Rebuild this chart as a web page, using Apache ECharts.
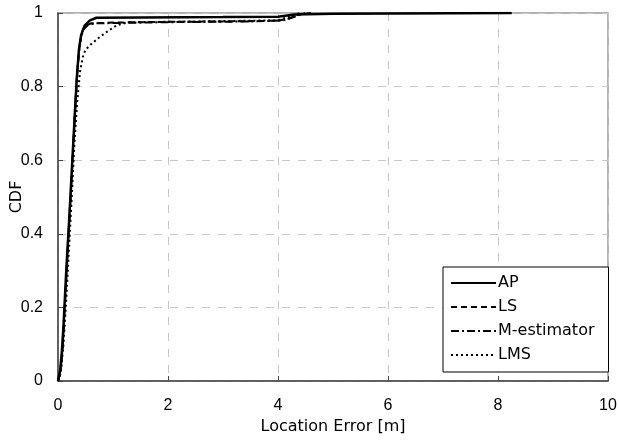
<!DOCTYPE html>
<html>
<head>
<meta charset="utf-8">
<script src="https://cdn.jsdelivr.net/npm/echarts@6/dist/echarts.min.js"></script>
<style>
  html, body { margin: 0; padding: 0; background: #fff; }
  #chart { width: 619px; height: 441px; }
</style>
</head>
<body>
<div id="chart"></div>
<script>
// CDF of location error for four estimators: [error (m), cumulative probability]
const seriesNames = ['AP', 'LS', 'M-estimator', 'LMS'];

const apCdf = [
  [0, 0], [0.04, 0.03], [0.07, 0.08], [0.1, 0.15], [0.15, 0.3], [0.2, 0.43],
  [0.25, 0.57], [0.3, 0.71], [0.34, 0.82], [0.38, 0.9], [0.42, 0.94],
  [0.48, 0.965], [0.58, 0.98], [0.7, 0.987], [1.5, 0.988], [3, 0.989],
  [4, 0.99], [4.3, 0.996], [5, 0.998], [8.25, 1]
];
const lsCdf = [
  [0, 0], [0.04, 0.02], [0.08, 0.09], [0.12, 0.2], [0.17, 0.34], [0.22, 0.48],
  [0.27, 0.62], [0.31, 0.74], [0.35, 0.84], [0.39, 0.91], [0.44, 0.95],
  [0.5, 0.965], [0.6, 0.972], [1, 0.974], [2, 0.976], [3, 0.977],
  [4, 0.979], [4.2, 0.985], [4.4, 0.997], [4.6, 1]
];
const mEstCdf = [
  [0, 0], [0.05, 0.03], [0.09, 0.1], [0.13, 0.22], [0.18, 0.36], [0.23, 0.5],
  [0.28, 0.64], [0.32, 0.76], [0.36, 0.86], [0.4, 0.92], [0.46, 0.955],
  [0.55, 0.968], [0.7, 0.972], [2, 0.975], [3.5, 0.977], [4.1, 0.98],
  [4.3, 0.99], [4.5, 1]
];
const lmsCdf = [
  [0, 0], [0.05, 0.02], [0.1, 0.1], [0.15, 0.22], [0.2, 0.36], [0.25, 0.5],
  [0.3, 0.65], [0.35, 0.76], [0.4, 0.84], [0.45, 0.88], [0.5, 0.9],
  [0.6, 0.915], [0.76, 0.935], [0.9, 0.95], [1.07, 0.967], [1.3, 0.975],
  [2.5, 0.977], [4, 0.98], [4.2, 0.99], [4.4, 1]
];

const xTickLabels = ['0', '2', '4', '6', '8', '10'];
const yTickLabels = ['0', '0.2', '0.4', '0.6', '0.8', '1'];

const TEXT_FONT = "'DejaVu Sans', sans-serif";
const TICK_FONT = "'Liberation Sans', Arial, sans-serif";
const axisColor = '#444';
const gridLine = { show: true, lineStyle: { color: '#c8c8c8', type: [8, 8], width: 1 } };

const chart = echarts.init(document.getElementById('chart'), null, { renderer: 'canvas' });

function lineSeries(name, data, width, dash) {
  return {
    name: name,
    type: 'line',
    data: data,
    symbol: 'none',
    showSymbol: false,
    smooth: false,
    color: '#000',
    z: name === 'AP' ? 5 : 4,
    itemStyle: { color: '#000' },
    lineStyle: { color: '#000', width: width, type: dash },
    emphasis: { disabled: true }
  };
}

chart.setOption({
  animation: false,
  backgroundColor: '#fff',
  color: ['#000', '#000', '#000', '#000'],
  textStyle: { fontFamily: TEXT_FONT },
  grid: {
    left: 58, right: 11, top: 13, bottom: 60,
    containLabel: false, outerBoundsMode: 'none',
    show: true, borderColor: '#999', borderWidth: 1.5, backgroundColor: 'transparent'
  },
  xAxis: {
    type: 'value', min: 0, max: 10, interval: 2,
    name: 'Location Error [m]', nameLocation: 'middle', nameGap: 38,
    nameMoveOverlap: false,
    nameTextStyle: { fontSize: 16, color: '#000', fontFamily: TEXT_FONT },
    axisLine: { show: true, onZero: false, lineStyle: { color: axisColor, width: 1.5 } },
    axisTick: { show: true, inside: true, length: 5, lineStyle: { color: axisColor } },
    axisLabel: {
      fontSize: 16, color: '#000', margin: 17, fontFamily: TICK_FONT,
      formatter: (v) => xTickLabels[Math.round(v / 2)]
    },
    splitLine: gridLine
  },
  yAxis: {
    type: 'value', min: 0, max: 1, interval: 0.2,
    name: 'CDF', nameLocation: 'middle', nameGap: 33,
    nameMoveOverlap: false,
    nameTextStyle: { fontSize: 16, color: '#000', fontFamily: TEXT_FONT },
    axisLine: { show: true, onZero: false, lineStyle: { color: axisColor, width: 1.5 } },
    axisTick: { show: true, inside: true, length: 5, lineStyle: { color: axisColor } },
    axisLabel: {
      fontSize: 16, color: '#000', margin: 15, fontFamily: TICK_FONT,
      formatter: (v) => yTickLabels[Math.round(v / 0.2)]
    },
    splitLine: gridLine
  },
  legend: {
    data: seriesNames,
    orient: 'vertical',
    left: 443, top: 267,
    padding: [8, 14, 9, 7],
    itemWidth: 45, itemHeight: 14, itemGap: 8,
    backgroundColor: '#fff',
    borderColor: '#000', borderWidth: 1, borderRadius: 0,
    itemStyle: { opacity: 0 },
    textStyle: { fontSize: 16, color: '#000', fontFamily: TEXT_FONT, padding: [0, 0, 0, -3] },
    selectedMode: false
  },
  series: [
    lineSeries('AP', apCdf, 2.5, 'solid'),
    lineSeries('LS', lsCdf, 2, [6, 4]),
    lineSeries('M-estimator', mEstCdf, 2, [8, 3, 2, 3]),
    lineSeries('LMS', lmsCdf, 2, [2, 3])
  ]
});
</script>
</body>
</html>
